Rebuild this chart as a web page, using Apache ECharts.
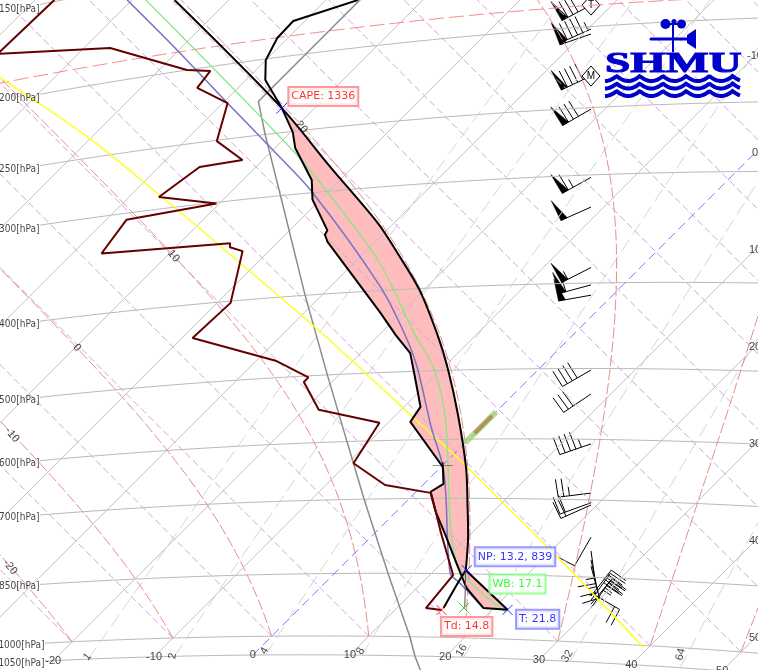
<!DOCTYPE html>
<html><head><meta charset="utf-8">
<script src="https://cdn.jsdelivr.net/npm/echarts@6/dist/echarts.min.js"></script>
<style>html,body{margin:0;padding:0;background:#fff;overflow:hidden}#c{width:758px;height:670px}</style></head>
<body><div id="c"></div>
<script>
var dewProfile=[[-88.0,149.2],[-88.3,171.3],[-77.3,179.8],[-67.1,200.0],[-64.6,202.6],[-64.2,212.1],[-59.5,224.8],[-56.7,250.6],[-52.1,267.4],[-55.8,268.9],[-56.9,289.5],[-50.3,301],[-57.9,306],[-57.0,335],[-44.8,339],[-44.4,343],[-42.7,348],[-38.6,402],[-38.9,440],[-28.0,477],[-22.9,502],[-22.9,508],[-18.5,549],[-10.9,572],[-9.4,636],[-3.9,675],[1.6,690],[4.1,725],[6.7,764],[12.4,853],[13.0,929],[14.8,933]];
var tempProfile=[[21.6,929],[18.9,926],[15.1,881],[11.5,827],[7.5,770],[4.1,725],[1.5,688],[2.0,674],[0.2,645],[-7.8,572],[-8.3,550],[-12.2,505],[-14.9,476],[-18.2,453],[-22.3,424],[-34.9,346],[-35.9,339],[-36.1,335],[-40.8,306],[-42.9,289.3],[-47.9,262.6],[-49.8,250.5],[-53.4,232.7],[-58.0,212.9],[-60.0,200.7],[-61.1,188.7],[-61.2,180.5],[-56.7,173.9]];
var parcelMoist=[[-75.6,160.2],[-53.4,232.7],[-42.5,279.3],[-31.6,332],[-26.5,362],[-20.4,402],[-13.9,455],[-9.5,497],[-3.6,563],[2.7,647],[7.0,718],[9.8,769],[13.2,842]];
var parcelDry=[[13.2,842],[21.6,929]];
var bluePath=[[-80.5,156.0],[-70.2,187.2],[-59.5,224.8],[-50.6,259.8],[-41.5,300],[-24.8,396],[-17.3,453],[-12.6,496],[-5.0,582],[0.0,642],[3.4,694],[11.9,849],[13.9,870],[18.9,926]];
var greenPath=[[-78.6,157.6],[-47.4,266.4],[-37.2,315],[-27.3,371],[-16.2,454],[-11.0,496],[-4.6,567],[11.4,825],[21.6,934]];
var yellowPath=[[-85.7,184.9],[-70.4,234.4],[-56.6,289.8],[-45.7,340],[-26.0,446],[-14.9,517],[-8.0,565],[2.3,642],[10.1,708],[21.5,812],[39.4,1004]];
var dewToLcl=[[14.8,928],[13.7,870],[13.2,842]];
var lclToWet=[[13.2,842],[16.9,925]];
var stdAtmosphere=[[22,1150],[16.8,1050],[14.3,1000],[5.5,850],[-4.6,700],[-12.3,600],[-21.2,500],[-31.7,400],[-44.5,300],[-52.4,250],[-56.5,226.3],[-56.5,100]];
var freezeOuter=[[0,606],[0,559]];
var freezeInner=[[0,591],[0,565]];
var tropopause=188.5;
var capePoint=[-53.4,232.7], npPoint=[13.3,842], tPoint=[21.6,929], tdPoint=[14.8,933], wbPoint=[16.9,927], lfcPoint=[0.0,642];
var capeText='CAPE: 1336', npText='NP: 13.2, 839', tText='T: 21.8', tdText='Td: 14.8', wbText='WB: 17.1';
var windBarbs=[[188.4,242,80,'T'],[201.4,246,95,''],[204.2,251,50,''],[229.3,245,90,'M'],[251,240,80,''],[302,241,65,''],[327,246,50,''],[384,243,55,''],[402,255,60,''],[413,260,50,''],[502,240,40,''],[534,236,30,''],[607,251,45,''],[688,263,25,''],[705,250,20,''],[709,246,20,''],[769,210,10,''],[796,172,15,''],[814,168,15,''],[827,165,15,''],[884,120,20,''],[891,38,30,''],[900,36,30,''],[909,40,25,''],[918,35,25,'']];
var isobarLevels=[150,200,250,300,400,500,600,700,850,1000,1050];
var isobarLabels=['150[hPa]','200[hPa]','250[hPa]','300[hPa]','400[hPa]','500[hPa]','600[hPa]','700[hPa]','850[hPa]','1000[hPa]','1050[hPa]'];
var isothermLevels=[-90,-80,-70,-60,-50,-40,-30,-20,-10,0,10,20,30,40,50];
var bottomTempLabels=[-20,-10,0,10,20,30,40,50];
var rightTempLabels=[-10,0,10,20,30,40,50];
var dryLevels=[-20,-10,0,10,20,30,40,50,60,70,80,90,100,110,120,130,140,150,160,170,180];
var moistLevels=[-20,-10,0,10,20,30,40,50];
var moistLabels=[[20,-49.4,247.6],[10,-49.3,346],[0,-49.8,438],[-10,-47.5,553],[-20,-34.1,805]];
var mixLevels=[1,2,4,8,16,32,64];

var KT=4.85,KL=1349.3;
function proj(T,p){var th=(T+273.15)*Math.pow(1000/p,0.286);var L=Math.log(th/273.15);return [KT*T+KL*L,KT*T-KL*L];}
function P(a){return a.map(function(d){return proj(d[0],d[1]);});}
var X0=-271.7,Y0=-636.2;
function isoAtX(p,xv){var a=-160,b=120;for(var i=0;i<50;i++){var m=(a+b)/2;if(proj(m,p)[0]<xv)a=m;else b=m;}return (a+b)/2;}
function satMix(Tc,p){var es=6.112*Math.exp(17.67*Tc/(Tc+243.5));return 0.622*es/(p-es);}
function moistCurve(T0){var out=[[T0,1000]],T=T0,lp=Math.log(1000),h=-0.02;
 function f(Tc,lnp){var K=Tc+273.15,r=satMix(Tc,Math.exp(lnp));var Lv=2.47e6;return (287*K+Lv*r)/(1005+Lv*Lv*r*0.622/(287*K*K));}
 for(var i=0;i<130;i++){var k1=f(T,lp),k2=f(T+h*k1,lp+h);T+=h*(k1+k2)/2;lp+=h;out.push([T,Math.exp(lp)]);}
 return out;}
function mixCurve(r){var pts=[];[1050,1000,925,850,700,600,500,400,300,250,200,150,100,70].forEach(function(p){var e=r/1000*p/(0.622+r/1000),l=Math.log(e/6.112);pts.push([243.5*l/(17.67-l),p]);});return pts;}

var series=[];
function line(pts,color,width,type,smooth){series.push({type:'line',data:pts,symbol:'none',silent:true,animation:false,smooth:smooth||false,lineStyle:{color:color,width:width,type:type||'solid',cap:'butt'},clip:true});}
var isobarStart={1000:45,1050:45};
isobarLevels.forEach(function(p){var xs=(isobarStart[p]||40)+X0,T1=isoAtX(p,xs),T2=isoAtX(p,760+X0),pts=[];for(var i=0;i<=40;i++){var t=T1+(T2-T1)*i/40;pts.push(proj(t,p));}line(pts,'#bababa',1);});
dryLevels.forEach(function(th){var K=th+273.15,T2=K*Math.pow(0.05,0.286)-273.15;line(P([[th,1000],[T2,50]]),'#d89ee6',1,[7,3.5]);});
mixLevels.forEach(function(r){line(P(mixCurve(r)),'#d6d6d6',1,[14,6]);});
moistLevels.forEach(function(t){line(P(moistCurve(t)),'#e88c8c',1,[11,3]);});
isothermLevels.forEach(function(t){if(t===0)line(P([[0,1050],[0,40]]),'#7a7aff',1,[9,5]);else line(P([[t,1050],[t,40]]),'#c2c2c2',1);});
(function(){var T1=-130,T2=-20,pts=[];for(var i=0;i<=30;i++)pts.push(proj(T1+(T2-T1)*i/30,tropopause));line(pts,'#ff8a8a',1,[15,5]);})();
line(P(stdAtmosphere),'#8c8c8c',1.5);
line(P(yellowPath),'#ffff1e',1.5,null,0.3);
series.push({type:'custom',silent:true,animation:false,data:[[0,0]],encode:{x:0,y:1},clip:true,renderItem:function(par,api){
  var poly=P(parcelMoist.slice(1)).concat(P(parcelDry.slice(1))).concat(P(tempProfile.slice(0,23))).map(function(c){return api.coord(c);});
  return {type:'polygon',shape:{points:poly},style:{fill:'#ffbcbc',stroke:null}};
}});
line(P(bluePath),'#7474c4',1.5,null,0.3);
line(P(greenPath),'#84e884',1.3,null,0.3);
line(P(freezeOuter),'rgba(160,210,110,0.75)',6);
line(P(freezeInner),'rgba(175,130,80,0.8)',4);
line(P(tempProfile),'#000000',2);
line(P(dewProfile),'#640000',2);
line(P(parcelMoist),'#000000',2,null,0.3);
line(P(parcelDry),'#000000',2);
line(P(dewToLcl),'#000000',2);
line(P(lclToWet),'#555555',1);

series.push({type:'custom',silent:true,animation:false,clip:false,encode:{x:0,y:1},
 data:windBarbs.map(function(w){var a=proj(isoAtX(w[0],591+X0),w[0]);return [a[0],a[1],w[1],w[2]];}),
 renderItem:function(par,api){
  var o=api.coord([api.value(0),api.value(1)]),d=api.value(2)*Math.PI/180,s=api.value(3),tag=windBarbs[par.dataIndex][3];
  var ux=Math.sin(d),uy=-Math.cos(d),fd=d+88*Math.PI/180,fx=Math.sin(fd),fy=-Math.cos(fd),LEN=33,kids=[];
  var st={stroke:'#000',lineWidth:1,fill:null};
  function seg(a,b){kids.push({type:'line',shape:{x1:a[0],y1:a[1],x2:b[0],y2:b[1]},style:st});}
  var tail=[o[0]+ux*LEN,o[1]+uy*LEN];seg(o,tail);
  var pos=0,n=Math.floor(s/50),rest=s-n*50,lg=Math.floor(rest/10),sh=(rest%10)>=5?1:0;
  function at(q){return [o[0]+ux*(LEN-q),o[1]+uy*(LEN-q)];}
  for(var i=0;i<n;i++){var a=at(pos),b=at(pos+7);kids.push({type:'polygon',shape:{points:[a,[a[0]+fx*22,a[1]+fy*22],b]},style:{fill:'#000',stroke:'#000',lineWidth:0.5}});pos+=7;}
  for(i=0;i<lg;i++){var c=at(pos);seg(c,[c[0]+fx*18,c[1]+fy*18]);pos+=5.7;}
  if(sh){var e=at(pos);seg(e,[e[0]+fx*9,e[1]+fy*9]);}
  if(tag){kids.push({type:'polygon',shape:{points:[[o[0]-9,o[1]],[o[0],o[1]-10],[o[0]+9,o[1]],[o[0],o[1]+10]]},style:{fill:'#fff',stroke:'#000',lineWidth:1}});
   kids.push({type:'text',style:{x:o[0],y:o[1],text:tag,fill:'#000',font:'10px "Liberation Sans"',textAlign:'center',textVerticalAlign:'middle'}});}
  return {type:'group',children:kids};
 }});

function txt(dataObj){series.push({type:'scatter',silent:true,animation:false,clip:false,symbolSize:1,itemStyle:{color:'transparent'},data:dataObj,z:6});}
var tickFont={fontFamily:'DejaVu Sans Condensed',fontSize:10,color:'#111'};
function lab(pos,text,cfg){var l={show:true,formatter:text,fontFamily:tickFont.fontFamily,fontSize:tickFont.fontSize,color:tickFont.color};for(var k in cfg)l[k]=cfg[k];return {value:pos,label:l};}
var isoOff={150:5,200:4,250:4,300:4,400:3,500:3,600:3,700:2,850:2,1000:2,1050:2};
txt(isobarLevels.map(function(p,i){var xs=(p>=1000?45:40)+X0;return lab(proj(isoAtX(p,xs),p),isobarLabels[i],{position:'left',distance:0,offset:[0,isoOff[p]]});}));
var numFont={fontFamily:'Liberation Sans',fontSize:11};
txt(bottomTempLabels.map(function(t){return lab(proj(t,1050),String(t),{position:'inside',fontFamily:numFont.fontFamily,fontSize:numFont.fontSize});}));
txt(rightTempLabels.map(function(t){var xv=755+X0;return lab([xv,9.7*t-xv],String(t),{position:'inside',fontFamily:numFont.fontFamily,fontSize:numFont.fontSize});}));
txt(moistLabels.map(function(m){return lab(proj(m[1],m[2]),String(m[0]),{position:'inside',rotate:-50,fontFamily:numFont.fontFamily,fontSize:numFont.fontSize});}));
var mixOff={1:[1,-2,50],2:[0,-2,80],4:[3,-3,60],8:[3,-3,60],16:[5,-5,60],32:[3,-5,60],64:[13,-3,75]};
txt(mixLevels.map(function(r){var c=mixCurve(r)[0],o=mixOff[r];return lab(proj(c[0],c[1]),String(r),{position:'inside',rotate:o[2],offset:[o[0],o[1]],fontFamily:numFont.fontFamily,fontSize:numFont.fontSize});}));

var XP='path://M0 0L10 10M10 0L0 10',PP='path://M0 5L20 5M10 3L10 7';
function boxLabel(text,bcol,tcol,off){return {show:true,formatter:text,position:off,align:'left',verticalAlign:'top',fontFamily:'DejaVu Sans',fontSize:11,color:tcol,backgroundColor:'#fff',borderColor:bcol,borderWidth:2,padding:[2,2,2,2],lineHeight:13};}
function mark(pt,sym,size,col,text,bcol,tcol,off){var d={value:proj(pt[0],pt[1])};if(text)d.label=boxLabel(text,bcol,tcol,off);
 series.push({type:'scatter',silent:true,animation:false,clip:false,symbol:sym,symbolSize:size,itemStyle:{color:'none',borderColor:col,borderWidth:1},data:[d],z:8});}
mark(capePoint,XP,[11,11],'#0000ff',capeText,'#ff8080','#ff0000',[15.5,-12]);
mark(npPoint,XP,[10,10],'#0000ff',npText,'#8080ff','#0000ff',[16.5,-14.5]);
mark(tPoint,XP,[10,10],'#0000ff',tText,'#8080ff','#0000ff',[17,8.5]);
mark(tdPoint,XP,[10,10],'#ff0000',tdText,'#ff8080','#ff0000',[8,15.5]);
mark(wbPoint,XP,[10,10],'#00b000',null);
mark(lfcPoint,PP,[20,6],'#000000',null);
series.push({type:'scatter',silent:true,animation:false,clip:false,symbolSize:1,itemStyle:{color:'transparent'},z:8,data:[{value:proj(wbPoint[0],wbPoint[1]),label:boxLabel(wbText,'#80ff80','#00ff00',[27,-32])}]});

var LB='#0000cc',waves=[];
[78.5,86,93.5].forEach(function(y){var pts=[];for(var x=605;x<=741;x+=1.5){var ph=((x-605)/23.2)%1,q=Math.abs(2*ph-1);pts.push([x,y+5*q*(2-q)-2.5]);}waves.push({type:'polyline',shape:{points:pts},style:{fill:null,stroke:LB,lineWidth:4}});});
var logo=[
 {type:'text',x:605,y:50.5,scaleX:1.57,scaleY:1,style:{text:'SHMU',fill:LB,stroke:LB,lineWidth:1,font:'bold 29px "Liberation Serif"',textVerticalAlign:'top'}},
 {type:'circle',shape:{cx:665.5,cy:24,r:5},style:{fill:LB}},
 {type:'circle',shape:{cx:681.5,cy:24,r:4.5},style:{fill:LB}},
 {type:'circle',shape:{cx:674,cy:21.5,r:2.5},style:{fill:LB}},
 {type:'line',shape:{x1:665,y1:24,x2:682,y2:24},style:{stroke:LB,lineWidth:2}},
 {type:'line',shape:{x1:673,y1:20,x2:673,y2:52},style:{stroke:LB,lineWidth:2}},
 {type:'line',shape:{x1:651,y1:39,x2:690,y2:39},style:{stroke:LB,lineWidth:3,lineCap:'round'}},
 {type:'polygon',shape:{points:[[687,35],[696,29],[696,49],[687,43]]},style:{fill:LB}}
].concat(waves);

var chart=echarts.init(document.getElementById('c'),null,{renderer:'canvas'});
chart.setOption({animation:false,backgroundColor:'#fff',tooltip:{show:false},legend:{show:false},
 grid:{left:0,right:0,top:0,bottom:0},
 xAxis:{type:'value',min:X0,max:X0+758,show:false},
 yAxis:{type:'value',min:Y0,max:Y0+670,inverse:true,show:false},
 series:series,
 graphic:{elements:logo.map(function(e){e.z=20;e.silent=true;return e;})}
});
</script></body></html>
